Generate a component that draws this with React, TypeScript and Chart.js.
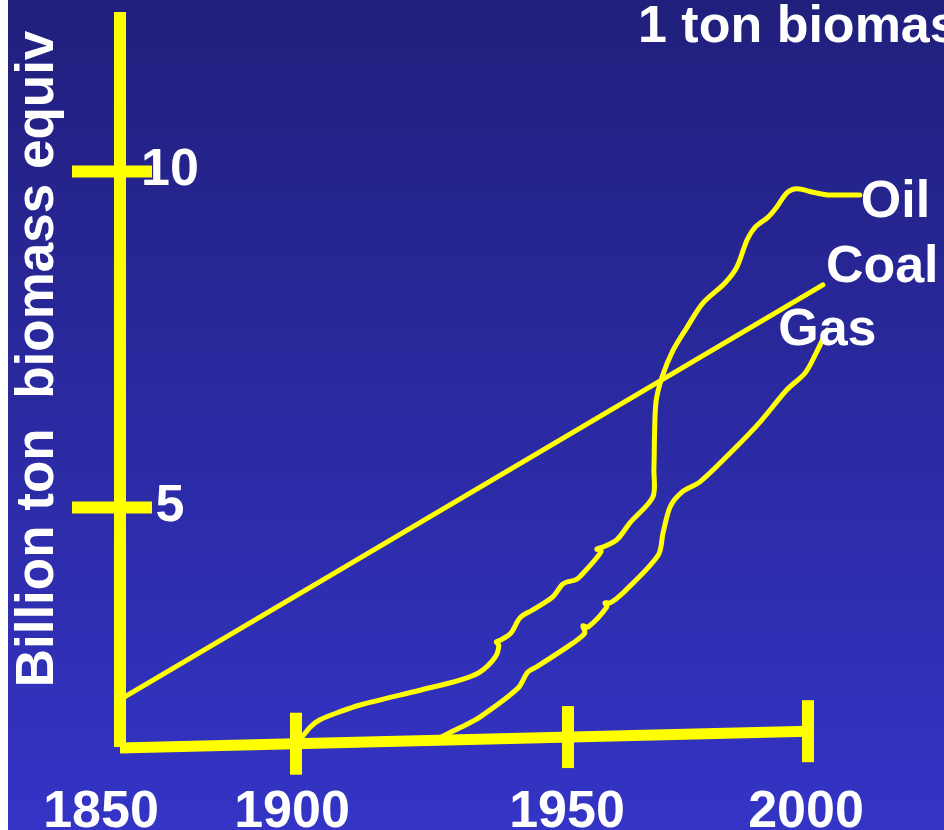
import React, { useEffect, useRef } from 'react';
import { Chart, registerables, LinearScale } from 'chart.js';

// ---------- data ----------
const xTickYears = [1850, 1900, 1950, 2000];
const xTickLabels = ['1850', '1900', '1950', '2000'];
const yTickValues = [10, 5];
const yTickLabels = ['10', '5'];
const seriesNames = ['Oil', 'Coal', 'Gas'];
const titleText = '1 ton biomass equiv';
const yTitleText = 'Billion ton  biomass equiv';

const oilYears = [1900.7, 1902.6, 1904.4, 1908.1, 1911.8, 1922.8, 1930.1, 1933.8, 1936.6, 1937.3, 1936.8, 1937.7, 1939.5, 1941.2, 1943.4, 1947.2, 1948.9, 1949.8, 1951.5, 1952.5, 1956.9, 1956.0, 1957.3, 1960.2, 1962.9, 1967.7, 1967.9, 1968.3, 1969.6, 1971.9, 1974.8, 1978.1, 1982.7, 1985.2, 1987.3, 1989.0, 1991.7, 1993.5, 1995.6, 1997.7, 2001.0, 2004.0, 2010.8];
const oilValues = [1.54, 1.73, 1.84, 1.96, 2.06, 2.28, 2.43, 2.55, 2.77, 2.95, 3.0, 3.03, 3.13, 3.36, 3.47, 3.67, 3.85, 3.89, 3.92, 3.97, 4.34, 4.38, 4.41, 4.52, 4.77, 5.16, 5.56, 6.55, 6.94, 7.34, 7.68, 8.04, 8.34, 8.58, 8.98, 9.17, 9.32, 9.47, 9.68, 9.74, 9.69, 9.65, 9.65];

const coalYears = [1850, 2003.1];
const coalValues = [2.14, 8.31];

const gasYears = [1925.6, 1930.1, 1933.8, 1940.8, 1942.6, 1944.3, 1951.0, 1953.5, 1953.1, 1954.2, 1958.1, 1957.7, 1958.8, 1961.5, 1968.8, 1969.8, 1971.3, 1973.8, 1977.5, 1983.8, 1990.0, 1995.6, 1999.4, 2001.5, 2004.0];
const gasValues = [1.54, 1.72, 1.88, 2.31, 2.55, 2.63, 2.98, 3.13, 3.24, 3.22, 3.52, 3.58, 3.58, 3.73, 4.29, 4.62, 5.01, 5.23, 5.38, 5.81, 6.27, 6.75, 7.0, 7.27, 7.64];

// axis line ends (year, value) as drawn on the slide
const xAxisFrom = [1850, 1.42];
const xAxisTo = [2000, 1.67];
const yAxisTop = 12.37;

// ---------- layout / style ----------
const knotDecimals = [0.11966, 0.30769, 0.59829, 0.8547]; // where tick years sit across the plot
const Y_MIN = 0.2;
const Y_MAX = 12.55;
const YELLOW = '#ffff00';
const FONT = 'bold 52px "Liberation Sans", Arial, Helvetica, sans-serif';
const YTITLE_FONT = 'bold 53px "Liberation Sans", Arial, Helvetica, sans-serif';
const labelOffsets = [
  [1, 22],
  [3, -3],
  [-49, 15],
];
const xLabelNudge = [-19, -4, -1, -2];

function interp(v: number, xs: number[], ys: number[]) {
  let i = 0;
  if (v <= xs[0]) i = 0;
  else if (v >= xs[xs.length - 1]) i = xs.length - 2;
  else {
    while (i < xs.length - 2 && v > xs[i + 1]) i++;
  }
  const t = (v - xs[i]) / (xs[i + 1] - xs[i]);
  return ys[i] + t * (ys[i + 1] - ys[i]);
}

class PiecewiseScale extends LinearScale {
  static id = 'piecewise';
  static defaults = LinearScale.defaults;
  getPixelForValue(value: any) {
    if (value === null || value === undefined || isNaN(value)) return NaN;
    return this.getPixelForDecimal(interp(value, xTickYears, knotDecimals));
  }
  getValueForPixel(pixel: number) {
    return interp(this.getDecimalForPixel(pixel), knotDecimals, xTickYears);
  }
}

Chart.register(...registerables, PiecewiseScale as any);

const zip = (xs: number[], ys: number[]) => xs.map((x, i) => ({ x, y: ys[i] }));

const slidePlugin = {
  id: 'slide',
  beforeDraw(chart: any) {
    const { ctx, width, height } = chart;
    const g = ctx.createLinearGradient(0, 0, 0, height);
    g.addColorStop(0, '#211f7c');
    g.addColorStop(1, '#3434c6');
    ctx.save();
    ctx.fillStyle = g;
    ctx.fillRect(0, 0, width, height);
    ctx.restore();
  },
  beforeDatasetsDraw(chart: any) {
    const { ctx } = chart;
    const xs = chart.scales.x;
    const ys = chart.scales.y;
    ctx.save();
    ctx.strokeStyle = YELLOW;
    ctx.lineCap = 'butt';
    const ax = xs.getPixelForValue(xAxisFrom[0]);
    const ay0 = ys.getPixelForValue(xAxisFrom[1]);
    const bx = xs.getPixelForValue(xAxisTo[0]);
    const by = ys.getPixelForValue(xAxisTo[1]);
    // y axis
    ctx.lineWidth = 12;
    ctx.beginPath();
    ctx.moveTo(ax, ys.getPixelForValue(yAxisTop));
    ctx.lineTo(ax, ay0 - 1);
    ctx.stroke();
    // y tick bars
    yTickValues.forEach((v) => {
      const y = ys.getPixelForValue(v);
      ctx.beginPath();
      ctx.moveTo(ax - 48, y);
      ctx.lineTo(ax + 32, y);
      ctx.stroke();
    });
    // x axis (slightly sloped)
    ctx.lineWidth = 11;
    ctx.beginPath();
    ctx.moveTo(ax, ay0);
    ctx.lineTo(bx, by);
    ctx.stroke();
    // x tick bars
    ctx.lineWidth = 12;
    xTickYears.slice(1).forEach((yr) => {
      const x = xs.getPixelForValue(yr);
      const y = ay0 + ((by - ay0) * (x - ax)) / (bx - ax);
      ctx.beginPath();
      ctx.moveTo(x, y - 31);
      ctx.lineTo(x, y + 31);
      ctx.stroke();
    });
    ctx.restore();
  },
  afterDatasetsDraw(chart: any) {
    const { ctx } = chart;
    const xs = chart.scales.x;
    const ys = chart.scales.y;
    ctx.save();
    ctx.fillStyle = '#ffffff';
    ctx.font = FONT;
    ctx.textBaseline = 'alphabetic';
    // series labels at the line ends
    chart.data.datasets.forEach((ds: any, i: number) => {
      const last = ds.data[ds.data.length - 1];
      const px = xs.getPixelForValue(last.x);
      const py = ys.getPixelForValue(last.y);
      ctx.textAlign = 'left';
      ctx.fillText(seriesNames[i], px + labelOffsets[i][0], py + labelOffsets[i][1]);
    });
    // y tick labels
    const axX = xs.getPixelForValue(xTickYears[0]);
    ctx.textAlign = 'center';
    yTickValues.forEach((v, i) => {
      ctx.fillText(yTickLabels[i], axX + 50, ys.getPixelForValue(v) + 13.5);
    });
    // x tick labels
    xTickYears.forEach((yr, i) => {
      ctx.fillText(xTickLabels[i], xs.getPixelForValue(yr) + xLabelNudge[i], 827);
    });
    // title top right
    ctx.textAlign = 'left';
    ctx.fillText(titleText, 630, 42);
    // rotated y title
    ctx.font = YTITLE_FONT;
    ctx.translate(45, 359);
    ctx.rotate(-Math.PI / 2);
    ctx.textAlign = 'center';
    ctx.fillText(yTitleText, 0, 0);
    ctx.restore();
  },
};

export default function App() {
  const ref = useRef<HTMLCanvasElement | null>(null);
  useEffect(() => {
    if (!ref.current) return;
    const mk = (name: string, xsArr: number[], ysArr: number[], tension: number) => ({
      label: name,
      data: zip(xsArr, ysArr),
      borderColor: YELLOW,
      borderWidth: 5,
      pointRadius: 0,
      tension,
      fill: false,
      borderJoinStyle: 'round' as const,
      borderCapStyle: 'round' as const,
    });
    const chart = new Chart(ref.current, {
      type: 'line',
      data: {
        datasets: [
          mk(seriesNames[0], oilYears, oilValues, 0.3),
          mk(seriesNames[1], coalYears, coalValues, 0),
          mk(seriesNames[2], gasYears, gasValues, 0.3),
        ],
      },
      options: {
        animation: false,
        responsive: false,
        devicePixelRatio: 1,
        layout: { padding: 0 },
        plugins: { legend: { display: false }, tooltip: { enabled: false }, title: { display: false } },
        scales: {
          x: { type: 'piecewise' as any, display: false, min: 1818, max: 2029 },
          y: { type: 'linear', display: false, min: Y_MIN, max: Y_MAX },
        },
      },
      plugins: [slidePlugin],
    });
    return () => chart.destroy();
  }, []);
  return (
    <div style={{ position: 'absolute', left: 8, top: 0, width: 936, height: 830 }}>
      <canvas ref={ref} width={936} height={830} />
    </div>
  );
}
